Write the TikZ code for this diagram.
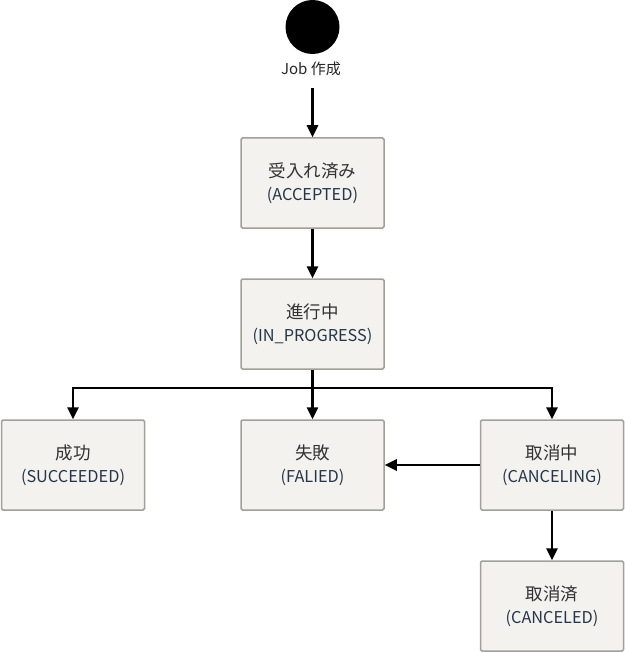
\documentclass[tikz,border=0pt]{standalone}
\usepackage{fontspec}
\setmainfont{Noto Sans CJK JP}
\usetikzlibrary{arrows.meta}
\definecolor{boxfill}{HTML}{F3F2EF}
\definecolor{boxline}{HTML}{A39F99}
\definecolor{enfont}{HTML}{26364A}
\newcommand{\stlabel}[2]{{\fontsize{17.5}{23}\selectfont #1}\\{\color{enfont}(#2)}}

\begin{document}
\begin{tikzpicture}[x=1pt,y=-1pt,
  state/.style={draw=boxline,fill=boxfill,line width=1.5pt,rounded corners=1.5pt,
    minimum width=143pt,minimum height=90pt,inner sep=0pt,align=center,
    font=\fontsize{16.3}{23}\selectfont,text=black!80},
  arr/.style={line width=2.6pt,-{Triangle[length=12pt,width=11pt]}},
  ln/.style={line width=2.6pt}]
  \useasboundingbox (0,0) rectangle (624,652);

  \node[circle,fill=black,minimum size=54pt,inner sep=0pt] (start) at (312.5,27) {};
  \node[font=\fontsize{15}{17}\selectfont,text=black!85] (startlbl) at (311,69) {Job 作成};

  \node[state] (accepted)  at (312.5,183) {\stlabel{受入れ済み}{ACCEPTED}};
  \node[state] (progress)  at (312.5,324) {\stlabel{進行中}{IN\_PROGRESS}};
  \node[state] (succeeded) at (73,465)    {\stlabel{成功}{SUCCEEDED}};
  \node[state] (failed)    at (312.5,465) {\stlabel{失敗}{FALIED}};
  \node[state] (canceling) at (552,465)   {\stlabel{取消中}{CANCELING}};
  \node[state] (canceled)  at (552,606)   {\stlabel{取消済}{CANCELED}};

  \coordinate (jobout) at (312.5,88);
  \coordinate (fork)   at (312.5,388);

  \draw[arr] (jobout) -- (accepted);
  \draw[arr] (accepted) -- (progress);
  \draw[ln]  (progress) -- (fork);
  \draw[arr] (fork) -| (succeeded);
  \draw[arr] (fork) -| (canceling);
  \draw[arr] (fork) -- (failed);
  \draw[arr] (canceling) -- (failed);
  \draw[arr] (canceling) -- (canceled);
\end{tikzpicture}
\end{document}
